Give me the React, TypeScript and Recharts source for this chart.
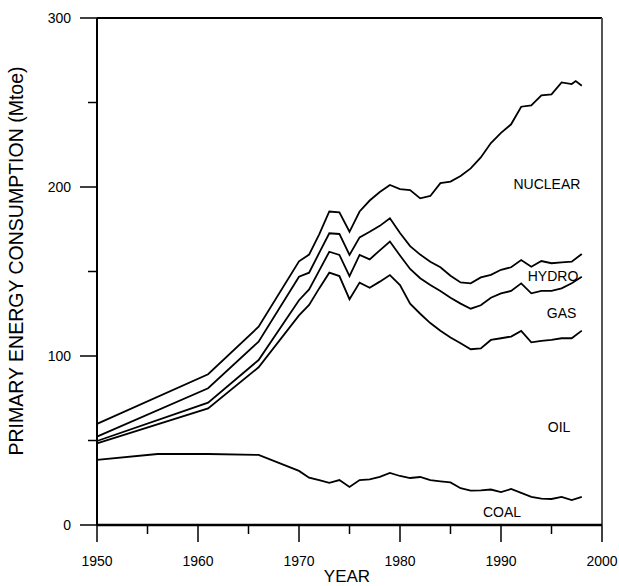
import React from 'react';
import { LineChart, Line, XAxis, YAxis, ReferenceLine, ReferenceDot } from 'recharts';

const years = [1950, 1956, 1961, 1966, 1970, 1971, 1972, 1973, 1974, 1975, 1976, 1977, 1978, 1979, 1980, 1981, 1982, 1983, 1984, 1985, 1986, 1987, 1988, 1989, 1990, 1991, 1992, 1993, 1994, 1995, 1996, 1997, 1997.4, 1998];

// cumulative line levels (Mtoe)
const coalLine = [38.5, 42, 42, 41.5, 32, 28, 26.5, 25, 26.6, 22.5, 26.6, 27, 28.5, 30.8, 29, 27.8, 28.4, 26.5, 25.8, 25.2, 21.8, 20.3, 20.5, 21, 19.5, 21.3, 19, 16.6, 15.6, 15.4, 16.6, 14.8, null, 16.6];
const oilLine = [48.3, null, 69, 93.3, 124, 130.2, 140, 149.3, 147.3, 133.6, 143.4, 140.4, 144, 147.9, 142, 131, 125, 119.5, 115, 111, 107.5, 104, 104.5, 109.5, 110.5, 111.5, 114.8, 108.1, 108.9, 109.5, 110.5, 110.5, null, 115];
const gasLine = [49.7, null, 72.4, 97.6, 133, 139.4, 150.5, 161.7, 159.8, 147.3, 159.8, 157.2, 162.5, 167.7, 159.5, 151.5, 146, 142, 138.5, 134.5, 131, 128, 130, 134.5, 137, 138.5, 143, 137.1, 138.5, 138.5, 140, 143, null, 146.9];
const hydroLine = [52.3, null, 80.9, 108.5, 146.9, 149.3, 161, 172.6, 172.2, 159.8, 170.2, 173.5, 177, 181.5, 172.8, 165, 160, 155.8, 152.5, 147.5, 143.5, 143, 146.5, 148, 151, 152.5, 156.8, 152.8, 156.2, 154.9, 155.4, 155.8, null, 160.4];
const nuclearLine = [59.8, null, 89.2, 117.3, 156, 160, 172, 185.5, 185, 173.5, 185.5, 192, 197, 201.2, 198.8, 198.2, 193.3, 194.7, 202.3, 203.2, 206.5, 211, 217.5, 226, 232, 237.1, 247.5, 248.3, 254.2, 254.8, 261.9, 260.9, 262.7, 259.9];

const xTicks = [1950, 1955, 1960, 1965, 1970, 1975, 1980, 1985, 1990, 1995, 2000];
const yTicks = [0, 50, 100, 150, 200, 250, 300];

const seriesLabels = [
  { name: 'NUCLEAR', x: 1994.55, y: 201.5 },
  { name: 'HYDRO', x: 1995.15, y: 147.5 },
  { name: 'GAS', x: 1996.0, y: 125.4 },
  { name: 'OIL', x: 1995.75, y: 58.0 },
  { name: 'COAL', x: 1990.1, y: 7.7 },
];

const FONT = '"Liberation Sans", Arial, sans-serif';

const data = years.map((year, i) => ({
  year,
  coal: coalLine[i],
  oil: oilLine[i],
  gas: gasLine[i],
  hydro: hydroLine[i],
  nuclear: nuclearLine[i],
}));

const XTick = (props: any) => {
  const { x, y, payload } = props;
  const v = payload.value;
  const major = v % 10 === 0;
  return (
    <g>
      <line x1={x} y1={y} x2={x} y2={y + (major ? 17 : 9)} stroke="#000" strokeWidth={1.5} />
      {major && (
        <text x={x} y={y + 41} textAnchor="middle" fontSize={14} fontFamily={FONT} fill="#000">
          {v}
        </text>
      )}
    </g>
  );
};

const YTick = (props: any) => {
  const { x, y, payload } = props;
  const v = payload.value;
  const major = v % 100 === 0;
  return (
    <g>
      <line x1={x - (major ? 17 : 9)} y1={y} x2={x} y2={y} stroke="#000" strokeWidth={1.5} />
      {major && (
        <text x={x - 26} y={y + 5} textAnchor="end" fontSize={14} fontFamily={FONT} fill="#000">
          {v}
        </text>
      )}
    </g>
  );
};

const keys = ['coal', 'oil', 'gas', 'hydro', 'nuclear'];

export default function App() {
  return (
    <div style={{ position: 'absolute', left: 0, top: 0 }}>
      <LineChart width={619} height={586} data={data} margin={{ top: 18, right: 17, bottom: 0, left: 0 }}>
        <XAxis
          dataKey="year"
          type="number"
          domain={[1950, 2000]}
          ticks={xTicks}
          interval={0}
          height={61}
          tickSize={0}
          tickMargin={0}
          tickLine={false}
          tick={<XTick />}
          axisLine={{ stroke: '#000', strokeWidth: 2.5 }}
        />
        <YAxis
          type="number"
          domain={[0, 300]}
          ticks={yTicks}
          interval={0}
          width={97}
          tickSize={0}
          tickMargin={0}
          tickLine={false}
          tick={<YTick />}
          axisLine={{ stroke: '#000', strokeWidth: 2 }}
        />
        <ReferenceLine y={300} stroke="#000" strokeWidth={2} />
        <ReferenceLine x={2000} stroke="#555" strokeWidth={2} />
        {keys.map((k) => (
          <Line
            key={k}
            type="linear"
            dataKey={k}
            stroke="#000"
            strokeWidth={1.8}
            dot={false}
            connectNulls
            isAnimationActive={false}
          />
        ))}
        {seriesLabels.map((l) => (
          <ReferenceDot
            key={l.name}
            x={l.x}
            y={l.y}
            r={0}
            fill="none"
            stroke="none"
            label={{ value: l.name, position: 'center', fontSize: 14, fill: '#000', fontFamily: FONT }}
          />
        ))}
        <text x={347} y={582} textAnchor="middle" fontSize={17} fontFamily={FONT} fill="#000">
          YEAR
        </text>
        <text
          x={16}
          y={261}
          textAnchor="middle"
          dominantBaseline="central"
          fontSize={19.5}
          fontFamily={FONT}
          fill="#000"
          transform="rotate(-90 16 261)"
        >
          PRIMARY ENERGY CONSUMPTION (Mtoe)
        </text>
      </LineChart>
    </div>
  );
}
